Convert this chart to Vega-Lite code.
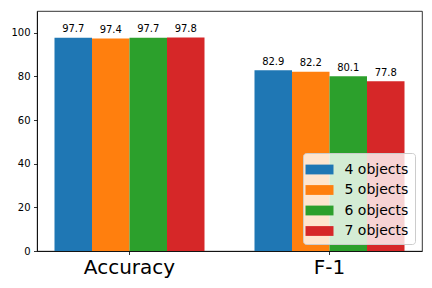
{
  "$schema": "https://vega.github.io/schema/vega-lite/v6.json",
  "width": 385,
  "height": 240,
  "autosize": {"type": "none"},
  "padding": {"left": 37, "top": 11, "right": 10, "bottom": 37},
  "config": {
    "font": "DejaVu Sans",
    "view": {"stroke": "black", "strokeWidth": 0.8},
    "axis": {
      "grid": false,
      "domainColor": "black",
      "tickColor": "black",
      "labelColor": "black",
      "domainWidth": 0.8,
      "tickWidth": 0.8,
      "tickSize": 3.5,
      "labelPadding": 3.5,
      "labelFont": "DejaVu Sans"
    },
    "legend": {
      "orient": "bottom-right",
      "offset": 7,
      "padding": 6,
      "fillColor": "rgba(255,255,255,0.8)",
      "strokeColor": "#cccccc",
      "cornerRadius": 3,
      "labelFontSize": 14,
      "labelColor": "black",
      "labelFont": "DejaVu Sans",
      "symbolType": "M-1.333,-0.467L1.333,-0.467L1.333,0.467L-1.333,0.467Z",
      "symbolSize": 441,
      "symbolStrokeWidth": 0,
      "symbolOpacity": 1,
      "labelOffset": 14.5,
      "rowPadding": 2.5
    }
  },
  "data": {
    "values": [
      {"metric": "Accuracy", "series": "4 objects", "value": 97.7},
      {"metric": "Accuracy", "series": "5 objects", "value": 97.4},
      {"metric": "Accuracy", "series": "6 objects", "value": 97.7},
      {"metric": "Accuracy", "series": "7 objects", "value": 97.8},
      {"metric": "F-1", "series": "4 objects", "value": 82.9},
      {"metric": "F-1", "series": "5 objects", "value": 82.2},
      {"metric": "F-1", "series": "6 objects", "value": 80.1},
      {"metric": "F-1", "series": "7 objects", "value": 77.8}
    ]
  },
  "encoding": {
    "x": {
      "field": "metric",
      "type": "nominal",
      "sort": ["Accuracy", "F-1"],
      "scale": {"paddingInner": 0.25, "paddingOuter": 0.0875},
      "axis": {"labelAngle": 0, "labelFontSize": 20, "labelPadding": 2.5, "title": null}
    },
    "xOffset": {
      "field": "series",
      "type": "nominal",
      "sort": ["4 objects", "5 objects", "6 objects", "7 objects"],
      "scale": {"paddingInner": 0, "paddingOuter": 0}
    },
    "y": {
      "field": "value",
      "type": "quantitative",
      "scale": {"domain": [0, 110], "nice": false},
      "axis": {"values": [0, 20, 40, 60, 80, 100], "labelFontSize": 10, "title": null}
    }
  },
  "layer": [
    {
      "mark": {"type": "bar"},
      "encoding": {
        "color": {
          "field": "series",
          "type": "nominal",
          "scale": {
            "domain": ["4 objects", "5 objects", "6 objects", "7 objects"],
            "range": ["#1f77b4", "#ff7f0e", "#2ca02c", "#d62728"]
          },
          "legend": {"title": null}
        }
      }
    },
    {
      "mark": {"type": "text", "baseline": "alphabetic", "dy": -5.5, "fontSize": 10, "color": "black"},
      "encoding": {
        "text": {"field": "value", "type": "quantitative", "format": ".1f"}
      }
    }
  ]
}
